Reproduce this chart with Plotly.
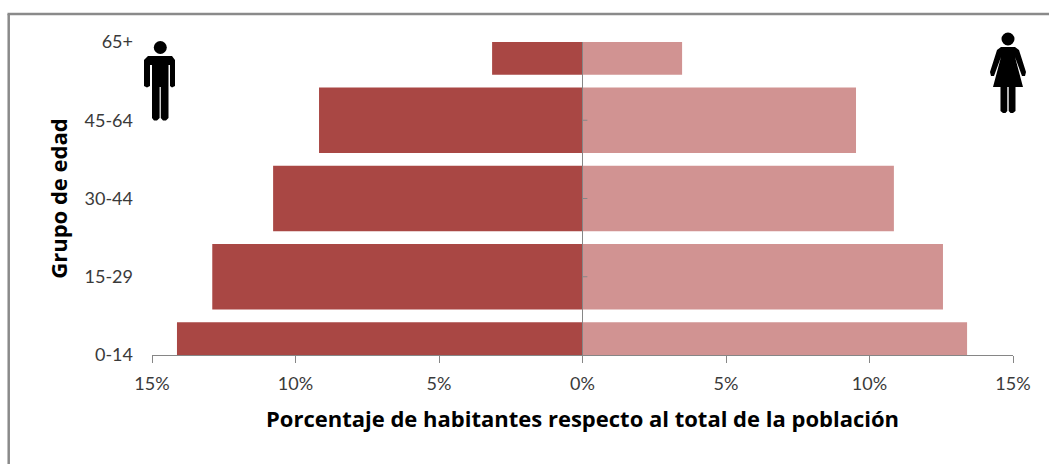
import plotly.graph_objects as go

grupos = ["0-14", "15-29", "30-44", "45-64", "65+"]
hombres = [14.13, 12.9, 10.78, 9.18, 3.15]
mujeres = [13.4, 12.56, 10.85, 9.53, 3.47]
tick_vals = [-15, -10, -5, 0, 5, 10, 15]
tick_text = ["15%", "10%", "5%", "0%", "5%", "10%", "15%"]

W, H = 1049, 464
L, R, T, B = 152, 1013, 42, 355
AXIS = "#868686"


def px(x):
    return (x - L) / (R - L)


def py(y):
    return (B - y) / (B - T)


def path(points):
    return "M" + " L".join(f"{px(x):.5f},{py(y):.5f}" for x, y in points) + " Z"


def head(cx, cy, r):
    return dict(type="circle", xref="paper", yref="paper", x0=px(cx - r), x1=px(cx + r),
                y0=py(cy + r), y1=py(cy - r), fillcolor="black", line_width=0)


def poly(points):
    return dict(type="path", xref="paper", yref="paper", path=path(points),
                fillcolor="black", line_width=0)


man_body = [(148, 56), (172, 56), (175, 60), (175, 86), (172, 87.5), (170, 86), (170, 65),
            (168.5, 65), (168.5, 118), (166, 120.5), (163, 120.5), (160.8, 118), (160.8, 87),
            (159.6, 87), (159.6, 118), (157, 120.5), (154, 120.5), (152, 118), (152, 65),
            (150, 65), (150, 86), (147, 87.5), (144, 86), (144, 60)]
woman_body = [(1001, 47), (1015, 47), (1019, 50), (1026, 72), (1025, 76), (1022, 76),
              (1015, 57), (1023, 87), (1015.5, 87), (1015.5, 111), (1013, 113), (1010.5, 113),
              (1008.7, 111), (1008.7, 87), (1007.3, 87), (1007.3, 111), (1005.5, 113), (1003, 113),
              (1000.5, 111), (1000.5, 87), (993, 87), (1001, 57), (994, 76), (991, 76),
              (990, 72), (997, 50)]

shapes = [
    dict(type="line", xref="paper", yref="paper", x0=px(7.5), x1=px(1049), y0=py(14), y1=py(14),
         line=dict(color="#8A8A8A", width=2.5)),
    dict(type="line", xref="paper", yref="paper", x0=px(8.7), x1=px(8.7), y0=py(14), y1=py(464),
         line=dict(color="#8A8A8A", width=2.5)),
    head(160.3, 47.5, 6.5), poly(man_body),
    head(1008, 39, 6.5), poly(woman_body),
]
for g in grupos[1:4]:
    shapes.append(dict(type="line", xref="x", yref="y", x0=0, x1=0.17, y0=g, y1=g,
                       line=dict(color=AXIS, width=1)))

fig = go.Figure()
fig.add_bar(y=grupos, x=[-v for v in hombres], orientation="h", name="Hombres",
            marker=dict(color="#A94744", line_width=0), width=0.84)
fig.add_bar(y=grupos, x=mujeres, orientation="h", name="Mujeres",
            marker=dict(color="#D19392", line_width=0), width=0.84)

fig.update_layout(
    width=W, height=H, barmode="relative", showlegend=False,
    margin=dict(l=L, r=W - R, t=T, b=H - B),
    paper_bgcolor="white", plot_bgcolor="white",
    font=dict(family="Lato", size=18, color="#3A3A3A"),
    shapes=shapes,
)
fig.update_xaxes(range=[-15, 15], tickvals=tick_vals, ticktext=tick_text, ticks="outside",
                 ticklen=7, tickcolor=AXIS, showgrid=False, showline=True, linecolor=AXIS,
                 zeroline=False, ticklabelstandoff=5,
                 title=dict(text="Porcentaje de habitantes respecto al total de la población",
                            font=dict(family="Open Sans", size=22, color="black", weight=700), standoff=19))
fig.update_yaxes(type="category", categoryorder="array", categoryarray=grupos, range=[0, 4],
                 showgrid=False, showline=False, zeroline=False, ticks="", ticklabelstandoff=18,
                 title=dict(text="Grupo de edad",
                            font=dict(family="Open Sans", size=22, color="black", weight=700), standoff=10))
fig.add_vline(x=0, line=dict(color=AXIS, width=1))

fig.write_html("out.html", config=dict(displayModeBar=False),
               post_script="document.body.style.margin='0';document.body.style.overflow='hidden';")
